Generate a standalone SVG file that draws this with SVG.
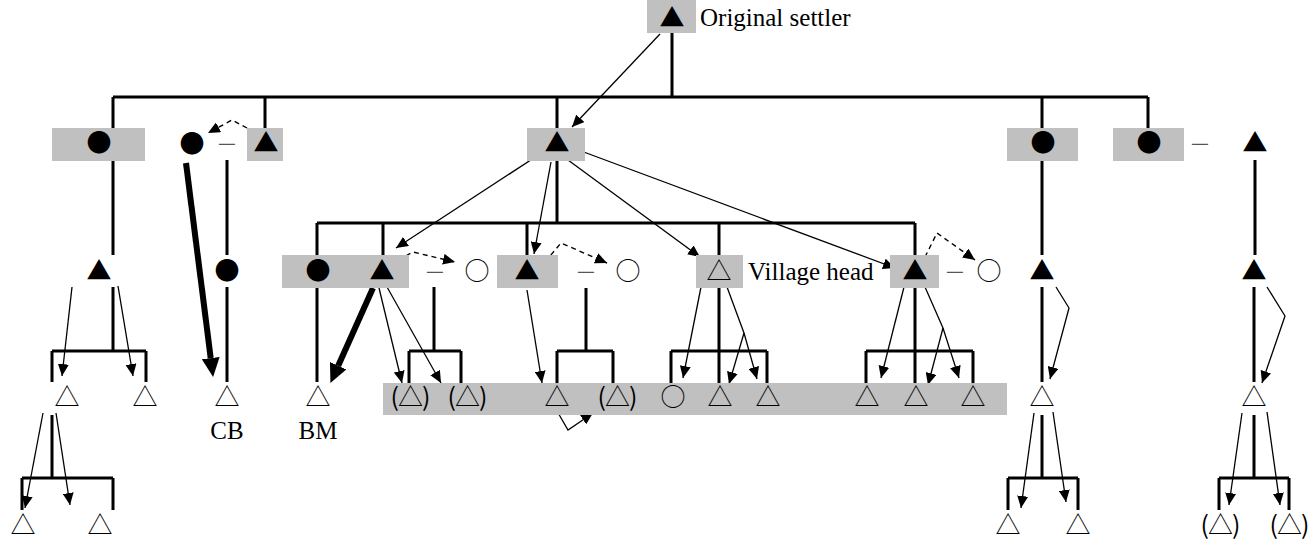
<svg xmlns="http://www.w3.org/2000/svg" width="1312" height="539" viewBox="0 0 1312 539">
<defs>
<style>
.box{fill:#c0c0c0}
.s{font-family:"Noto Sans CJK JP","Noto Sans CJK SC",sans-serif;font-size:25px;text-anchor:middle;fill:#000}
.p{letter-spacing:-1px}
.d{font-family:"Noto Sans CJK JP",sans-serif;font-size:20px;text-anchor:middle;fill:#555}
.t{font-family:"Liberation Serif","Times New Roman",serif;font-size:25px;fill:#000}
.k{fill:none;stroke:#000;stroke-width:3}
.a{fill:none;stroke:#000;stroke-width:1.3;marker-end:url(#ah)}
.ds{fill:none;stroke:#000;stroke-width:1.4;stroke-dasharray:5,4;marker-end:url(#ah)}
.th{fill:none;stroke:#000;stroke-width:6;marker-end:url(#ahb)}
</style>
<marker id="ah" markerUnits="userSpaceOnUse" markerWidth="13" markerHeight="11" refX="12" refY="5.5" orient="auto"><path d="M0,0 L12,5.5 L0,11 z" fill="#000"/></marker>
<marker id="ahb" markerUnits="userSpaceOnUse" markerWidth="20" markerHeight="18" refX="0" refY="9" orient="auto"><path d="M0,0 L19,9 L0,18 z" fill="#000"/></marker>
</defs>
<rect width="1312" height="539" fill="#fff"/>

<g id="connectors">
<path class="k" d="M672,33V97M113,97H1148M113,97V128M265,97V128M557,97V128M1042,97V128M1148,97V128"/>
<path class="k" d="M113,161V255M113,287V351M52,351H146M52,351V382M146,351V382M227,160V255M227,287V382"/>
<path class="k" d="M557,161V223M317,223H915M317,223V255M383,223V255M527,223V255M719,223V255M915,223V255"/>
<path class="k" d="M317,288V382M434,287V351M409,351H461M409,351V383M461,351V383"/>
<path class="k" d="M586,288V351M557,351H613M557,351V383M613,351V383"/>
<path class="k" d="M719,288V383M671,351H767M671,351V383M767,351V383"/>
<path class="k" d="M915,288V383M866,351H973M866,351V383M973,351V383"/>
<path class="k" d="M1042,161V255M1042,287V382M1042,415V478M1008,478H1078M1008,478V510M1078,478V510"/>
<path class="k" d="M1255,160V255M1254,287V382M1254,415V478M1219,478H1289M1219,478V510M1289,478V510"/>
<path class="k" d="M52,415V478M22,478H113M22,478V510M113,478V510"/>
<path class="a" d="M660,34L572,127"/>
<path class="a" d="M540,154L396,248"/>
<path class="a" d="M551,162L534,254"/>
<path class="a" d="M568,160L700,257"/>
<path class="a" d="M573,148L895,268"/>
<path class="a" d="M72,287L62,376"/>
<path class="a" d="M118,286L133,376"/>
<path class="a" d="M379,288L402,383"/>
<path class="a" d="M387,287L441,383"/>
<path class="a" d="M527,290L542,383"/>
<path class="a" d="M701,287L683,378"/>
<path class="a" d="M727,287L744,333L757,379"/>
<path class="a" d="M744,333L729,384"/>
<path class="a" d="M904,287L881,378"/>
<path class="a" d="M925,287L943,328L959,378"/>
<path class="a" d="M943,328L928,385"/>
<path class="a" d="M1056,287L1069,308L1050,379"/>
<path class="a" d="M1267,287L1285,316L1262,383"/>
<path class="a" d="M1034,413L1021,508"/>
<path class="a" d="M1053,412L1066,502"/>
<path class="a" d="M1242,413L1229,505"/>
<path class="a" d="M1267,412L1280,505"/>
<path class="a" d="M43,413L25,508"/>
<path class="a" d="M56,413L70,505"/>
<path class="a" d="M557,411L568,430L593,413"/>
<path class="ds" d="M247,128L232,120L208,133"/>
<path class="ds" d="M398,260L413,252L455,262"/>
<path class="ds" d="M545,262L561,243L607,263"/>
<path class="ds" d="M925,257L937,233L975,260"/>
<path class="th" d="M186,163L210.7,358.1"/>
<path class="th" d="M373,288L338.2,365.7"/>
</g>

<g id="n-settler"><rect class="box" x="647" y="0" width="49" height="33"/><text class="s" x="672" y="27">▲</text><text class="t" x="700" y="26">Original settler</text></g>

<g id="n1a"><rect class="box" x="52" y="128" width="93" height="33"/><text class="s" x="99" y="152">●</text></g>
<g id="n1b"><text class="s" x="192" y="153">●</text></g>
<g id="m1"><text class="d" x="227" y="150">—</text></g>
<g id="n1c"><rect class="box" x="247" y="128" width="36" height="33"/><text class="s" x="266" y="152">▲</text></g>
<g id="n1d"><rect class="box" x="527" y="128" width="58" height="33"/><text class="s" x="557" y="152">▲</text></g>
<g id="n1e"><rect class="box" x="1007" y="128" width="71" height="33"/><text class="s" x="1043" y="152">●</text></g>
<g id="n1f"><rect class="box" x="1113" y="128" width="71" height="33"/><text class="s" x="1149" y="152">●</text></g>
<g id="m2"><text class="d" x="1200" y="150">—</text></g>
<g id="n1g"><text class="s" x="1255" y="152">▲</text></g>

<g id="n2a"><text class="s" x="99" y="280">▲</text></g>
<g id="n2b"><text class="s" x="227" y="280">●</text></g>
<g id="n2c"><rect class="box" x="282" y="255" width="127" height="33"/><text class="s" x="318" y="280">●</text><text class="s" x="382" y="280">▲</text></g>
<g id="m3"><text class="d" x="435" y="278">—</text></g>
<g id="n2d"><text class="s" x="477" y="280">○</text></g>
<g id="n2e"><rect class="box" x="497" y="255" width="61" height="33"/><text class="s" x="527" y="280">▲</text></g>
<g id="m4"><text class="d" x="586" y="278">—</text></g>
<g id="n2f"><text class="s" x="628" y="280">○</text></g>
<g id="n2g"><rect class="box" x="696" y="255" width="47" height="33"/><text class="s" x="719" y="280">△</text><text class="t" x="748" y="280">Village head</text></g>
<g id="n2h"><rect class="box" x="890" y="255" width="49" height="33"/><text class="s" x="915" y="280">▲</text></g>
<g id="m5"><text class="d" x="955" y="278">—</text></g>
<g id="n2i"><text class="s" x="989" y="280">○</text></g>
<g id="n2j"><text class="s" x="1042" y="280">▲</text></g>
<g id="n2k"><text class="s" x="1254" y="280">▲</text></g>

<g id="n3a"><text class="s" x="67" y="406">△</text></g>
<g id="n3b"><text class="s" x="145" y="406">△</text></g>
<g id="n3c"><text class="s" x="227" y="406">△</text><text class="t" x="227" y="439" text-anchor="middle">CB</text></g>
<g id="n3d"><text class="s" x="318" y="406">△</text><text class="t" x="318" y="439" text-anchor="middle">BM</text></g>
<g id="n3band"><rect class="box" x="383" y="383" width="624" height="32"/>
<text class="s p" x="410" y="406">(△)</text><text class="s p" x="467" y="406">(△)</text><text class="s" x="557" y="406">△</text><text class="s p" x="617" y="406">(△)</text><text class="s" x="673" y="406">○</text><text class="s" x="720" y="406">△</text><text class="s" x="768" y="406">△</text><text class="s" x="867" y="406">△</text><text class="s" x="916" y="406">△</text><text class="s" x="973" y="406">△</text></g>
<g id="n3e"><text class="s" x="1042" y="406">△</text></g>
<g id="n3f"><text class="s" x="1254" y="406">△</text></g>

<g id="n4a"><text class="s" x="23" y="534">△</text></g>
<g id="n4b"><text class="s" x="100" y="534">△</text></g>
<g id="n4c"><text class="s" x="1008" y="534">△</text></g>
<g id="n4d"><text class="s" x="1078" y="534">△</text></g>
<g id="n4e"><text class="s p" x="1220" y="534">(△)</text></g>
<g id="n4f"><text class="s p" x="1289" y="534">(△)</text></g>
</svg>
